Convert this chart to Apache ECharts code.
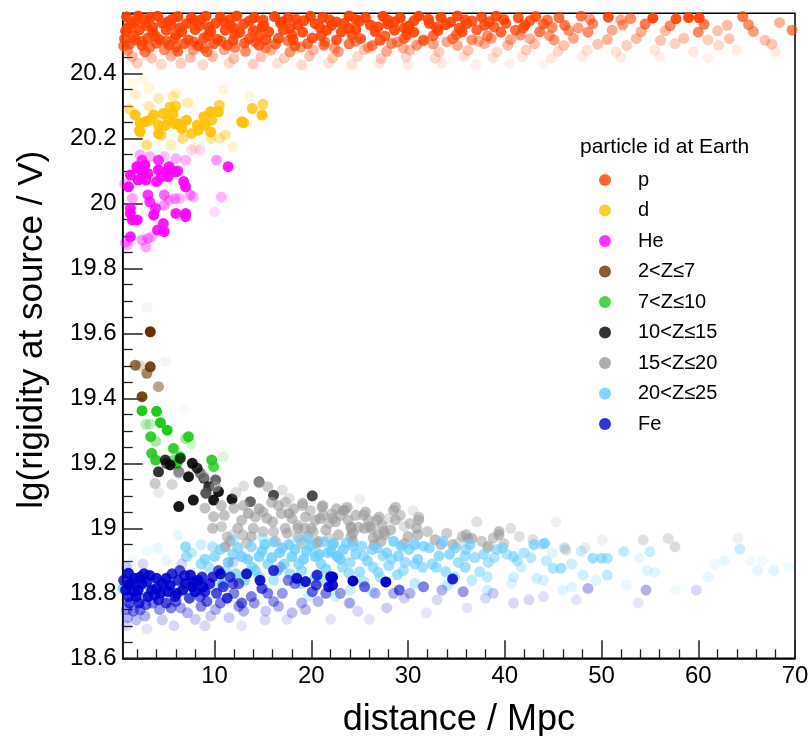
<!DOCTYPE html>
<html><head><meta charset="utf-8">
<script src="https://cdn.jsdelivr.net/npm/echarts@6/dist/echarts.min.js"></script>
<style>html,body{margin:0;padding:0;background:#fff}#c{width:809px;height:736px}</style>
</head><body><div id="c"></div>
<script>
const categories = ['p','d','He','2<Z≤7','7<Z≤10','10<Z≤15','15<Z≤20','20<Z≤25','Fe'];
const colors = ['#ff4000','#ffc000','#ff00ff','#663300','#1ecb1e','#000000','#999999','#66ccff','#0000cc'];
const legendTitle = 'particle id at Earth';
const xName = 'distance / Mpc';
const yName = 'lg(rigidity at source / V)';

// [distance, lg rigidity, opacity]
const pPoints = [
[0.9,20.574,.95],[2.1,20.577,.95],[3.3,20.572,.95],[4.1,20.576,.95],[6.2,20.575,.95],[7.6,20.571,.95],[9.1,20.576,.95],[10.6,20.573,.95],[12.3,20.577,.95],[14.1,20.572,.95],[16.2,20.575,.95],[17.6,20.571,.95],[19.9,20.576,.95],[21.2,20.573,.95],[23.9,20.577,.95],[25.6,20.572,.95],[27.4,20.576,.95],[29.2,20.571,.95],[31.1,20.576,.95],[33.4,20.572,.95],[35.1,20.577,.9],[37.6,20.573,.9],[39.1,20.576,.9],[41.4,20.571,.85],[43.2,20.575,.85],[45.6,20.572,.75],[47.9,20.576,.7],[50.7,20.573,.9],[53.0,20.569,.6],[55.3,20.57,.95],[57.7,20.568,.9],[59.0,20.572,.95],[60.1,20.571,.95],[64.6,20.575,.7],
[2.6,20.566,.9],[5.6,20.567,.9],[8.6,20.565,.9],[11.6,20.566,.9],[15.0,20.564,.9],[18.4,20.567,.9],[21.9,20.565,.9],[24.6,20.566,.9],[27.9,20.564,.9],[32.1,20.567,.9],[35.9,20.565,.85],[39.9,20.566,.85],[44.4,20.564,.7],[48.8,20.567,.5],[52.0,20.565,.45],
[1.8,20.561,.9],[5.2,20.559,.9],[8.0,20.562,.9],[11.0,20.558,.9],[13.6,20.561,.9],[17.0,20.559,.9],[19.2,20.562,.9],[22.6,20.558,.9],[25.0,20.561,.9],[28.6,20.559,.9],[30.6,20.562,.9],[34.4,20.558,.9],[36.6,20.561,.85],[38.4,20.559,.85],[42.6,20.562,.8],
[1.4,20.552,.9],[2.9,20.548,.9],[4.6,20.555,.9],[5.5,20.549,.9],[7.1,20.553,.9],[8.4,20.547,.9],[10.1,20.554,.9],[11.6,20.549,.9],[13.0,20.552,.9],[15.1,20.547,.9],[16.8,20.555,.9],[18.6,20.549,.9],[20.4,20.553,.9],[22.1,20.548,.9],[23.4,20.554,.9],[26.1,20.549,.9],[27.9,20.552,.9],[30.1,20.547,.9],[32.2,20.554,.9],[33.9,20.55,.9],[36.1,20.553,.85],[37.9,20.548,.85],[40.1,20.554,.8],[42.1,20.549,.8],[44.0,20.552,.75],[46.2,20.548,.7],[49.1,20.553,.6],[52.2,20.549,.5],[54.5,20.552,.7],[57.1,20.547,.6],[60.6,20.551,.7],[63.0,20.548,.35],[65.2,20.55,.6],[68.4,20.556,.4],
[1.0,20.541,.9],[3.6,20.543,.9],[6.4,20.54,.9],[9.4,20.542,.9],[12.0,20.539,.9],[14.9,20.543,.9],[17.8,20.54,.9],[20.9,20.542,.9],[23.9,20.539,.9],[26.9,20.543,.9],[29.6,20.54,.9],[32.9,20.542,.85],[35.3,20.539,.85],[38.9,20.543,.8],[41.9,20.54,.75],[44.9,20.542,.6],[47.6,20.54,.5],
[0.8,20.53,.9],[2.2,20.534,.9],[3.6,20.527,.9],[5.0,20.533,.9],[6.6,20.528,.9],[8.0,20.535,.9],[9.6,20.529,.9],[11.1,20.533,.9],[12.6,20.526,.9],[14.0,20.532,.9],[15.6,20.528,.9],[17.1,20.534,.9],[19.1,20.527,.9],[21.6,20.533,.9],[23.1,20.528,.9],[24.6,20.535,.9],[26.6,20.529,.9],[28.6,20.533,.9],[30.6,20.527,.9],[33.1,20.532,.85],[35.6,20.528,.85],[37.1,20.534,.8],[39.6,20.527,.8],[41.1,20.533,.75],[43.6,20.528,.7],[46.6,20.532,.55],[48.6,20.527,.6],[51.1,20.533,.45],[54.1,20.529,.4],[56.6,20.532,.35],[60.0,20.527,.6],[62.0,20.531,.3],[65.7,20.529,.5],[69.7,20.533,.6],
[1.6,20.518,.85],[3.9,20.515,.85],[6.0,20.519,.85],[9.3,20.516,.85],[12.1,20.52,.85],[14.6,20.515,.85],[18.0,20.518,.85],[21.0,20.516,.85],[24.2,20.519,.85],[27.6,20.515,.8],[29.9,20.519,.8],[32.6,20.516,.75],[35.0,20.519,.7],[38.2,20.515,.6],[41.6,20.518,.55],[44.6,20.516,.5],
[0.7,20.507,.85],[1.9,20.503,.85],[3.1,20.509,.85],[4.3,20.504,.85],[5.9,20.508,.85],[7.3,20.503,.85],[8.9,20.509,.85],[10.3,20.505,.85],[11.9,20.501,.85],[13.6,20.507,.85],[15.3,20.503,.85],[16.6,20.508,.85],[18.1,20.504,.85],[20.1,20.509,.85],[22.6,20.503,.85],[25.1,20.507,.8],[27.1,20.502,.8],[29.6,20.508,.75],[31.6,20.503,.7],[34.6,20.507,.6],[36.6,20.503,.55],[38.6,20.508,.5],[40.6,20.504,.45],[42.6,20.507,.4],[45.1,20.503,.5],[47.1,20.508,.45],[50.6,20.504,.4],[53.6,20.507,.35],[56.1,20.502,.3],[58.5,20.508,.3],[61.0,20.503,.25],[63.2,20.507,.3],[66.9,20.502,.3],
[2.5,20.498,.75],[5.0,20.5,.75],[7.9,20.497,.75],[10.7,20.499,.75],[14.2,20.497,.7],[17.6,20.5,.7],[21.4,20.497,.65],[24.6,20.499,.6],[28.9,20.497,.55],[31.6,20.5,.5],[34.0,20.497,.45],[37.3,20.499,.4],
[1.2,20.49,.8],[2.5,20.486,.8],[4.0,20.493,.8],[5.3,20.487,.8],[6.9,20.492,.8],[8.3,20.485,.8],[9.9,20.491,.8],[11.3,20.487,.8],[13.1,20.493,.8],[14.6,20.486,.8],[16.3,20.49,.75],[18.3,20.485,.75],[19.6,20.492,.75],[21.3,20.487,.7],[23.9,20.491,.7],[26.3,20.486,.65],[28.3,20.492,.6],[30.9,20.487,.55],[32.6,20.491,.5],[35.1,20.486,.45],[37.9,20.492,.4],[40.3,20.487,.35],[43.1,20.491,.3],[46.1,20.486,.3],[49.6,20.49,.3],[52.6,20.486,.25],[57.6,20.492,.25],[62.1,20.487,.2],[67.6,20.49,.3],
[0.6,20.485,.7],[3.3,20.48,.7],[6.0,20.481,.7],[8.9,20.478,.65],[12.1,20.48,.65],[15.3,20.479,.6],[18.9,20.481,.55],[22.4,20.479,.5],[25.9,20.48,.45],[29.5,20.478,.4],
[1.0,20.47,.5],[2.8,20.466,.7],[4.8,20.473,.6],[6.2,20.468,.75],[7.8,20.472,.5],[9.2,20.467,.7],[11.0,20.473,.45],[13.2,20.468,.6],[15.8,20.471,.4],[17.8,20.466,.55],[20.2,20.472,.35],[22.8,20.467,.5],[25.5,20.473,.3],[27.8,20.468,.45],[30.2,20.472,.3],[33.2,20.466,.25],[36.2,20.471,.3],[39.2,20.467,.2],[42.2,20.472,.25],[45.5,20.468,.2],[48.5,20.471,.15],[51.5,20.466,.15],[55.5,20.472,.12],[59.5,20.467,.12],[64.0,20.471,.1],[68.0,20.467,.1],
[1.5,20.452,.35],[3.5,20.447,.3],[5.5,20.453,.4],[7.5,20.448,.3],[9.8,20.452,.35],[12.0,20.446,.3],[14.8,20.451,.3],[17.2,20.447,.25],[19.8,20.453,.3],[22.2,20.448,.25],[24.8,20.452,.2],[27.2,20.446,.25],[29.8,20.451,.2],[32.8,20.447,.2],[35.8,20.452,.15],[38.8,20.448,.15],[41.8,20.451,.12],[44.8,20.447,.12],[48.0,20.452,.1],[52.0,20.448,.1],[56.0,20.451,.08],[61.0,20.447,.08],
[2.0,20.432,.25],[4.5,20.428,.2],[6.5,20.431,.25],[8.8,20.427,.2],[11.5,20.432,.2],[14.0,20.429,.25],[16.5,20.431,.15],[19.0,20.427,.2],[21.8,20.432,.15],[24.2,20.428,.15],[27.0,20.431,.12],[30.0,20.427,.1],[33.5,20.431,.1],[37.0,20.428,.08],[40.5,20.431,.08],[44.0,20.428,.06]
];

const dPoints = [
[1.8,20.272,.9],[2.3,20.247,.9],[2.3,20.22,.9],[2.8,20.251,.9],[3.3,20.256,.9],[3.7,20.272,.9],[4.2,20.241,.9],[4.2,20.215,.9],[4.7,20.277,.9],[4.9,20.24,.9],[5.2,20.26,.9],[5.4,20.297,.8],[5.7,20.277,.9],[5.9,20.245,.9],[6.0,20.30,.7],[6.3,20.245,.9],[6.6,20.23,.9],[7.1,20.256,.9],[7.6,20.215,.8],[8.2,20.241,.9],[8.3,20.225,.9],[8.9,20.267,.9],[9.0,20.241,.9],[9.6,20.282,.9],[9.6,20.22,.9],[9.7,20.256,.8],[10.4,20.282,.9],[10.5,20.302,.7],[12.8,20.251,.9],[13.0,20.248,.9],[13.9,20.292,.8],[14.9,20.272,.9],[15.0,20.305,.6],
[3.2,20.30,.3],[4.2,20.323,.3],[5.7,20.33,.3],[6.0,20.34,.2],[1.8,20.335,.2],[3.2,20.355,.15],[11.1,20.21,.4],[9.6,20.20,.35],[10.5,20.20,.3],[11.9,20.174,.2],[6.7,20.20,.5],[3.0,20.18,.5],[4.5,20.21,.6],[2.2,20.225,.8],[13.6,20.33,.15],[10.9,20.35,.15],[5.5,20.18,.25],[8.0,20.17,.2],[1.5,20.37,.1],[2.6,20.38,.1],[7.2,20.31,.3],[1.2,20.29,.5]
];

const hePoints = [
[1.3,20.087,.95],[1.1,20.051,.95],[1.3,19.969,.95],[1.5,19.949,.95],[1.3,19.985,.9],[2.0,19.949,.95],[1.3,19.897,.9],[1.96,20.113,.95],[2.1,20.072,.95],[2.3,20.103,.95],[2.5,20.133,.8],[2.6,20.092,.95],[2.8,20.118,.95],[2.9,20.072,.9],[3.1,20.092,.9],[3.1,20.026,.8],[3.3,20.005,.8],[3.7,19.964,.95],[3.9,19.985,.85],[4.0,20.067,.9],[4.2,20.103,.95],[4.2,20.133,.8],[4.5,20.082,.9],[4.8,20.026,.6],[4.8,19.913,.9],[4.1,19.918,.9],[4.7,19.938,.9],[5.2,20.103,.95],[5.2,20.082,.9],[5.3,20.113,.9],[6.0,20.097,.95],[6.2,20.10,.8],[6.0,19.969,.9],[6.8,20.067,.95],[7.0,20.051,.95],[7.0,19.969,.95],[7.0,19.959,.9],[11.4,20.113,.9],
[1.5,20.016,.35],[1.0,19.872,.3],[2.9,19.866,.35],[2.5,19.887,.4],[3.1,19.892,.4],[3.5,19.897,.3],[4.8,19.995,.4],[5.3,20.01,.3],[5.9,20.015,.4],[6.4,20.015,.3],[7.5,20.026,.4],[7.8,20.02,.3],[10.2,20.133,.4],[10.7,20.02,.3],[6.0,20.138,.3],[7.0,20.133,.3],[3.3,20.144,.3],[2.3,20.149,.3],[4.8,20.144,.25],[10.0,19.974,.15],[7.6,20.165,.15],[8.5,20.165,.15],[0.8,19.88,.4],[0.7,20.06,.3]
];

const z2to7Points = [
[3.35,19.605,1],[1.8,19.502,.7],[3.35,19.497,.9],[3.0,19.477,.6],[4.2,19.436,.45],[2.5,19.405,.9],[2.3,19.50,.2]
];

const z7to10Points = [
[2.5,19.362,1],[4.0,19.36,1],[4.4,19.325,1],[5.1,19.302,1],[2.9,19.32,.3],[3.4,19.282,.9],[3.9,19.268,.4],[5.75,19.246,.9],[7.3,19.282,.9],[7.0,19.276,.4],[3.5,19.231,.9],[3.9,19.21,.9],[5.8,19.21,.6],[6.45,19.22,.9],[9.7,19.21,.9],[9.9,19.19,.8],[6.1,19.20,.9],[10.9,19.22,.15],[3.3,19.32,.25],[7.6,19.26,.2]
];

const z10to15Points = [
[4.9,19.21,.8],[5.4,19.195,.9],[4.2,19.174,.8],[6.3,19.174,.5],[6.45,19.215,.7],[7.7,19.20,.9],[8.2,19.185,.8],[7.3,19.159,.9],[8.9,19.154,.7],[10.1,19.149,.6],[9.4,19.128,.8],[9.1,19.108,.9],[10.4,19.113,.9],[7.8,19.087,.9],[9.9,19.087,.9],[11.8,19.09,.9],[6.3,19.067,.9],[13.7,19.082,.6],[14.6,19.143,.6],[16.1,19.102,.7],[20.1,19.10,.7],[5.0,19.20,.6],[8.5,19.17,.5]
];

const z15to20Points = [
[3.85,19.138,.5],[5.6,19.135,.4],[4.2,19.11,.2],[6.3,19.17,.5],[8.9,19.16,.5],[10.1,19.128,.6],[9.1,19.108,.5],[9.0,19.062,.6],[10.7,19.07,.6],[9.9,19.036,.6],[12.0,19.062,.6],[9.8,19.0,.6],[10.7,19.005,.5],[11.3,18.974,.5],[11.8,18.98,.3],[11.1,18.943,.7],[11.6,18.96,.6],[12.9,18.98,.5],[13.8,18.975,.6],[12.8,19.025,.6],[13.5,19.046,.7],[14.2,19.035,.6],[14.6,19.06,.7],[15.4,19.031,.6],[14.6,19.14,.6],[15.5,19.128,.5],[15.9,19.08,.6],[16.6,19.07,.6],[17.0,19.118,.3],[17.7,19.092,.3],[17.7,19.046,.7],[18.0,19.03,.6],[19.1,19.07,.5],[18.6,19.01,.5],[19.4,19.035,.6],[19.9,19.055,.5],[20.4,19.025,.6],[21.1,19.065,.6],[15.0,18.99,.5],[16.1,18.99,.5],[17.3,19.0,.6],[18.6,18.974,.5],[20.6,18.954,.6],[19.0,18.954,.5],[21.8,19.015,.5],[22.1,19.045,.5],[20.2,18.99,.5],[21.8,18.97,.4],
[23.5,19.056,.6],[23.0,19.04,.6],[25.4,19.041,.6],[28.5,19.056,.6],[31.1,19.026,.6],[26.8,19.026,.6],[28.7,19.026,.6],[24.1,19.0,.6],[24.9,19.003,.6],[25.5,19.0,.6],[26.2,19.0,.6],[26.9,18.98,.6],[27.6,18.98,.6],[30.9,19.0,.6],[31.0,18.98,.6],[24.1,18.975,.6],[24.3,18.96,.6],[26.5,18.949,.6],[29.6,18.953,.6],[29.6,19.006,.3],[28.0,19.03,.3],[30.5,19.055,.2],[33.4,18.95,.6],[34.6,18.95,.6],[36.2,18.969,.6],[36.6,18.969,.6],[39.4,18.98,.6],[39.9,18.953,.4],[37.1,19.02,.3],[40.6,19.0,.3],[38.2,18.94,.4],[35.2,18.955,.3],[42.9,18.965,.3],[46.2,18.94,.25],[45.3,19.02,.15],[25.0,19.09,.15],[22.5,19.02,.6],
[19.1,19.077,.6],[21.2,19.07,.6],[21.2,19.04,.6],[22.2,19.03,.6],[23.3,19.055,.6],[23.7,19.065,.6],[25.6,19.05,.6],[27.0,19.035,.6],[28.7,19.065,.6],[31.1,19.035,.5],[18.6,19.0,.6],[20.0,19.0,.6],[24.1,19.005,.6],[26.0,19.005,.6],[27.5,18.99,.6],[24.3,18.985,.6],[20.7,18.96,.6],[27.2,18.96,.6],[36.0,18.98,.6],[39.4,18.99,.6],[38.3,18.945,.5],
[11.0,19.04,.6],[12.4,19.0,.6],[13.0,19.07,.6],[13.3,18.955,.5],[14.0,19.0,.6],[15.0,19.05,.6],[16.0,19.02,.6],[16.3,18.96,.5],[16.9,19.045,.6],[17.5,18.985,.6],[18.2,19.06,.6],[19.3,19.0,.6],[19.6,18.975,.5],[20.9,19.03,.6],[21.5,18.995,.6],[22.6,19.06,.6],[23.8,19.025,.6],[24.6,19.04,.6],[25.9,19.025,.6],[26.4,18.97,.6],[27.3,19.01,.6],[28.2,18.995,.6],[29.2,19.04,.5],[30.0,18.975,.6],[30.2,19.015,.5],[32.0,18.99,.5],[32.8,18.965,.6],[34.0,18.985,.5],[35.6,18.975,.5],[37.6,18.96,.5],[38.8,18.97,.5],[41.5,18.975,.3],[43.8,18.95,.25],[22.8,18.98,.6],[17.3,19.08,.5],[12.2,19.11,.3],[13.0,19.13,.3],
[54.3,18.964,.3],[56.9,18.969,.3],[57.6,18.943,.35],[46.3,18.933,.3],[64.1,18.97,.15],[50.1,18.965,.15],[48.3,18.94,.2],
[3.0,19.68,.1],[4.9,19.513,.1],[6.8,19.364,.05]
];

const z20to25Points = [
[0.57,18.815,.8],[2.2,18.82,.9],[3.3,18.82,.8],[4.7,18.82,.6],[7.3,18.79,.3],[9.4,18.88,.5],[1.5,18.9,.1],[3.0,18.93,.1],[5.0,18.9,.15],
[7.0,18.943,.7],[7.1,18.913,.6],[8.6,18.89,.6],[10.0,18.913,.7],[10.8,18.83,.9],[9.8,18.943,.5],[11.9,18.92,.7],[12.8,18.913,.8],[12.2,18.86,.7],[13.1,18.84,.7],[13.8,18.943,.7],[13.9,18.88,.7],[14.6,18.913,.8],[14.9,18.93,.8],[15.5,18.89,.7],[16.1,18.958,.7],[16.7,18.925,.8],[17.2,18.89,.7],[17.7,18.95,.8],[18.0,18.913,.8],[18.7,18.89,.7],[19.0,18.87,.6],[19.5,18.93,.8],[19.7,18.969,.6],[20.4,18.913,.8],[21.0,18.89,.7],[21.7,18.925,.7],[22.2,18.95,.7],[22.7,18.913,.7],[20.4,18.85,.6],[19.0,18.83,.5],[21.2,18.84,.5],[16.1,18.84,.5],[11.2,18.87,.5],[9.8,18.82,.4],[8.4,18.83,.4],[6.7,18.83,.3],[5.5,18.85,.3],[4.1,18.94,.15],[6.2,18.98,.15],[8.6,18.95,.3],[7.6,18.925,.4],[19.7,18.79,.3],[22.5,18.79,.3],[21.3,18.959,.7],
[9.0,18.905,.7],[10.6,18.935,.7],[11.4,18.895,.8],[12.4,18.94,.7],[13.4,18.905,.8],[14.2,18.87,.7],[15.2,18.95,.8],[15.9,18.91,.8],[16.5,18.87,.7],[17.0,18.94,.8],[18.3,18.935,.8],[19.2,18.905,.8],[20.0,18.945,.8],[20.8,18.92,.8],[21.5,18.875,.7],[22.0,18.93,.8],[23.0,18.905,.8],[23.6,18.955,.7],[24.6,18.92,.7],[25.8,18.9,.7],[26.8,18.94,.7],[27.8,18.925,.7],[29.0,18.915,.7],[30.1,18.935,.7],[31.0,18.905,.7],[32.2,18.94,.7],[32.5,18.89,.6],[34.3,18.92,.7],[35.2,18.895,.6],[36.0,18.935,.6],[37.8,18.92,.6],[38.9,18.91,.5],[39.8,18.94,.6],[41.3,18.9,.5],[42.7,18.91,.45],[44.3,18.9,.4],[14.6,18.85,.6],[17.8,18.86,.6],[23.2,18.88,.6],[26.9,18.865,.55],[29.5,18.87,.55],[34.8,18.85,.5],[36.6,18.84,.4],[12.0,18.965,.4],[15.0,18.97,.4],[18.8,18.965,.5],
[22.3,18.954,.8],[23.3,18.935,.8],[24.3,18.945,.7],[25.2,18.945,.7],[26.3,18.935,.7],[28.5,18.96,.8],[29.3,18.945,.8],[30.7,18.95,.8],[31.6,18.945,.7],[33.6,18.96,.7],[34.9,18.94,.7],[36.4,18.95,.7],[39.2,18.935,.6],[40.9,18.913,.6],[43.0,18.95,.7],[45.0,18.877,.5],[22.6,18.915,.7],[24.0,18.895,.6],[25.4,18.915,.6],[27.4,18.915,.6],[28.3,18.905,.6],[29.7,18.895,.6],[30.7,18.89,.6],[33.2,18.915,.7],[35.9,18.915,.6],[36.9,18.91,.6],[38.3,18.895,.5],[40.2,18.92,.5],[42.0,18.925,.5],[23.9,18.862,.6],[25.0,18.866,.6],[26.4,18.88,.6],[28.0,18.885,.6],[28.9,18.857,.6],[30.7,18.83,.4],[31.5,18.88,.6],[32.9,18.88,.6],[33.9,18.866,.6],[35.9,18.88,.6],[37.4,18.866,.5],[38.2,18.85,.4],[40.9,18.85,.3],[43.3,18.846,.3],[25.4,18.836,.5],[27.1,18.85,.5],[34.1,18.825,.4],[38.2,18.81,.3],[40.7,18.83,.2],[24.0,18.81,.35],[26.3,18.805,.3],[44.9,18.925,.2],[46.1,18.94,.2],[41.7,18.88,.3],[44.0,18.84,.25],[46.0,18.81,.2],
[45.8,18.877,.6],[49.1,18.908,.6],[50.0,18.908,.6],[50.6,18.908,.5],[52.3,18.928,.4],[55.0,18.928,.35],[50.6,18.856,.4],[48.1,18.856,.3],[46.9,18.89,.35],[47.9,18.93,.35],[49.4,18.84,.2],[54.7,18.87,.2],[55.5,18.865,.2],[53.9,18.908,.15],[64.3,18.936,.35],[61.0,18.85,.15],[62.7,18.9,.15],[66.1,18.87,.15],[67.8,18.87,.2],[65.4,18.9,.1],[46.9,18.82,.2],[52.6,18.825,.15],[57.6,18.81,.1],[61.7,18.89,.1],[66.6,18.9,.1],[69.4,18.88,.1],[44.1,18.954,.8]
];

const fePoints = [
[1.1,18.862,.9],[1.1,18.826,.9],[1.1,18.79,.8],[1.2,18.77,.7],[1.7,18.846,.9],[1.7,18.805,.9],[2.2,18.77,.8],[2.3,18.85,.9],[2.1,18.81,.9],[3.0,18.836,.8],[3.1,18.79,.9],[4.0,18.846,.9],[4.0,18.815,.9],[4.2,18.78,.8],[5.0,18.846,.9],[5.2,18.805,.9],[5.0,18.77,.7],[5.9,18.79,.8],[6.2,18.84,.8],[6.4,18.87,.7],[7.0,18.83,.9],[7.5,18.856,.9],[7.7,18.82,1],[8.0,18.805,.9],[7.4,18.785,.7],[8.7,18.85,.8],[9.0,18.805,.8],[9.2,18.775,.6],[10.4,18.87,.7],[10.6,18.86,.9],[11.3,18.785,.8],[11.9,18.83,.6],[12.8,18.77,.6],[13.3,18.86,.9],[14.7,18.84,.9],[14.9,18.815,.7],[16.1,18.87,.8],[16.1,18.775,.4],[18.5,18.846,.9],[18.3,18.83,.5],[20.5,18.825,.7],[20.6,18.856,.8],[20.1,18.805,.6],[3.6,18.77,.5],[2.3,18.749,.5],[1.6,18.745,.5],[0.9,18.75,.4],[4.3,18.75,.4],[6.5,18.755,.35],[10.1,18.75,.3],[12.5,18.76,.4],[14.1,18.77,.4],[16.6,18.76,.3],[18.0,18.74,.25],[19.4,18.75,.25],[1.9,18.718,.25],[4.6,18.718,.2],[8.0,18.72,.2],[11.5,18.725,.2],[15.2,18.718,.15],[0.9,18.88,.2],[2.6,18.89,.15],[6.6,18.89,.15],[11.9,18.895,.15],[16.8,18.88,.2],[0.9,18.70,.15],
[0.6,18.84,.8],[1.4,18.83,.9],[2.7,18.86,.9],[3.5,18.81,.9],[4.6,18.83,.9],[5.6,18.86,.8],[6.7,18.81,.9],[8.3,18.84,.9],[9.5,18.83,.8],[10.2,18.8,.7],[3.8,18.795,.7],[6.0,18.775,.6],[8.5,18.79,.6],[12.0,18.8,.5],[13.8,18.79,.5],[2.8,18.73,.3],[7.2,18.74,.3],[9.0,18.7,.15],[13.0,18.745,.3],[17.0,18.8,.4],[19.0,18.77,.3],[5.8,18.7,.15],[3.0,18.69,.1],[12.8,18.7,.1],[17.5,18.72,.12],[22.0,18.72,.1],[26.0,18.72,.1],[33.0,18.78,.15],[38.0,18.785,.15],[44.0,18.79,.12],
[0.8,18.81,.9],[1.9,18.79,.9],[2.5,18.83,.9],[3.3,18.855,.9],[4.4,18.8,.9],[5.4,18.825,.9],[6.1,18.8,.9],[6.9,18.855,.8],[7.9,18.835,.9],[8.8,18.82,.9],[9.8,18.85,.8],[10.9,18.82,.7],[11.6,18.85,.7],[12.5,18.83,.6],[2.9,18.765,.6],[5.5,18.755,.5],[8.6,18.76,.45],[10.6,18.77,.5],[15.5,18.8,.5],[17.6,18.84,.5],[23.0,18.8,.4],[25.5,18.82,.6],[28.5,18.8,.3],[33.5,18.81,.3],[38.8,18.8,.2],[42.5,18.78,.15],[20.7,18.775,.3],[15.3,18.745,.2],[9.6,18.73,.2],[1.0,18.725,.3],
[22.2,18.85,1],[22.2,18.825,.9],[24.3,18.838,1],[27.7,18.835,1],[34.6,18.844,.85],[29.1,18.81,.6],[31.6,18.82,.5],[26.6,18.8,.3],[30.2,18.8,.3],[35.7,18.805,.4],[29.6,18.785,.2],[23.9,18.77,.2],[27.8,18.755,.2],[24.8,18.745,.15],[40.9,18.77,.15],[31.9,18.74,.1],[36.1,18.755,.1],[19.4,18.836,.9],[22.0,18.851,1],[21.8,18.82,.9],[21.5,18.8,.5],[24.0,18.77,.2],
[48.6,18.815,.3],[54.6,18.81,.3],[59.8,18.81,.15],[47.4,18.78,.1],[53.8,18.77,.1]
];

const seriesPoints = [pPoints, dPoints, hePoints, z2to7Points, z7to10Points, z10to15Points, z15to20Points, z20to25Points, fePoints];

const FONT = '"Liberation Sans", Arial, Helvetica, sans-serif';
const chart = echarts.init(document.getElementById('c'), null, {renderer: 'canvas'});

const series = categories.map((name, i) => ({
  type: 'scatter',
  name: name,
  symbol: 'circle',
  symbolSize: 11,
  itemStyle: {color: colors[i]},
  emphasis: {disabled: true},
  data: seriesPoints[i].map(p => ({value: [p[0], p[1]], itemStyle: {opacity: p[2]}}))
}));

chart.setOption({
  animation: false,
  backgroundColor: '#fff',
  title: {
    text: legendTitle, left: 580, top: 137, padding: 0,
    textStyle: {fontSize: 21, fontWeight: 'normal', color: '#000', fontFamily: FONT}
  },
  legend: {
    data: categories.map(c => ({name: c, icon: 'circle'})),
    orient: 'vertical', left: 599, top: 170, padding: 0,
    itemWidth: 56, itemHeight: 12, itemGap: 10.5,
    textStyle: {fontSize: 20, color: '#000', fontFamily: FONT},
    selectedMode: false
  },
  grid: {left: 122.7, right: 14, top: 13.3, bottom: 77.7, show: true, borderColor: '#000', borderWidth: 1.5,
         backgroundColor: 'transparent', containLabel: false, outerBoundsMode: 'none'},
  xAxis: {
    type: 'value', min: 0.5, max: 70, splitNumber: 7,
    name: xName, nameLocation: 'middle', nameGap: 44,
    nameTextStyle: {fontSize: 36, color: '#000', fontFamily: FONT},
    axisLine: {show: true, onZero: false, lineStyle: {color: '#000', width: 1.5}},
    axisTick: {show: true, inside: true, length: 18, lineStyle: {color: '#222', width: 1.5}},
    minorTick: {show: true, splitNumber: 5, length: 9, lineStyle: {color: '#222', width: 1.3}},
    axisLabel: {showMinLabel: false, fontSize: 24, color: '#000', margin: 6, fontFamily: FONT},
    splitLine: {show: false}
  },
  yAxis: {
    type: 'value', min: 18.6, max: 20.585, interval: 0.2,
    name: yName, nameLocation: 'middle', nameGap: 73,
    nameTextStyle: {fontSize: 35, color: '#000', fontFamily: FONT, padding: [0, 0, 0, 12]},
    axisLine: {show: true, onZero: false, lineStyle: {color: '#000', width: 1.5}},
    axisTick: {show: true, inside: true, length: 20, lineStyle: {color: '#222', width: 1.5}},
    minorTick: {show: true, splitNumber: 4, length: 10, lineStyle: {color: '#222', width: 1.3}},
    axisLabel: {showMaxLabel: false, fontSize: 24, color: '#000', margin: 6, fontFamily: FONT},
    splitLine: {show: false}
  },
  series: series
});
</script>
</body></html>
